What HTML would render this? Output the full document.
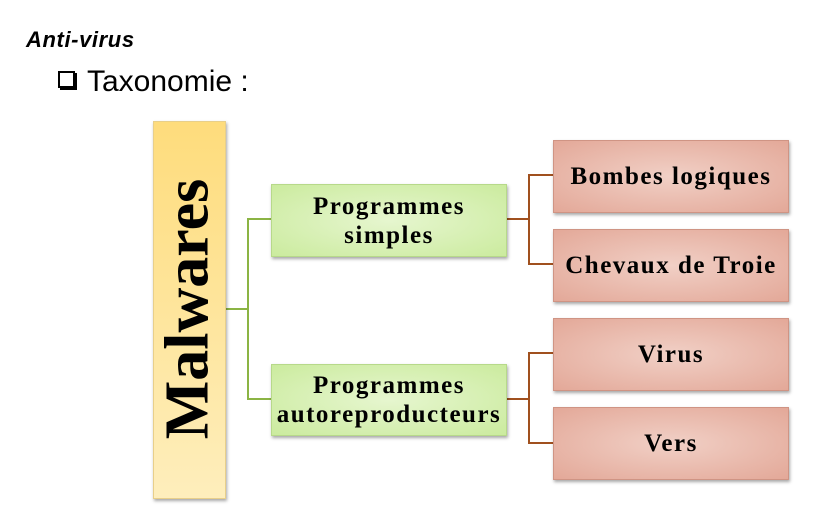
<!DOCTYPE html>
<html><head><style>
body{margin:0;width:826px;height:520px;background:#fff;position:relative;overflow:hidden;font-family:"Liberation Serif",serif}
.t1{position:absolute;left:26px;top:27px;font:italic bold 22px "Liberation Sans",sans-serif;letter-spacing:0.6px}
.t2{position:absolute;left:58px;top:65px;font:30px "Liberation Sans",sans-serif}
.sq{display:inline-block;width:13px;height:13px;border:2px solid #000;box-shadow:2px 2px 0 #000;margin-right:12px;vertical-align:3px}
.b{position:absolute;display:flex;align-items:center;justify-content:center;text-align:center;font-weight:bold;font-size:25px;letter-spacing:1.5px;line-height:29px;box-shadow:1px 2px 3px rgba(0,0,0,.35)}
.g{background:radial-gradient(ellipse at center,#e6f6cf,#cbeb9e);border:1px solid #b7d98a}
.r{background:radial-gradient(ellipse at center,#f1d0c6,#e3a898);border:1px solid #cf9484}
.m{position:absolute;left:153px;top:121px;width:71px;height:376px;background:linear-gradient(#fedc7c,#feeebc);border:1px solid #e8cf8a;box-shadow:1px 2px 3px rgba(0,0,0,.35)}
.mt{position:absolute;left:188px;top:309px;transform:translate(-50%,-50%) rotate(-90deg);font-weight:bold;font-size:62px;white-space:nowrap}
</style></head><body>
<div class="t1">Anti-virus</div>
<div class="t2"><span class="sq"></span>Taxonomie :</div>
<svg width="826" height="520" style="position:absolute;left:0;top:0">
<g fill="none" stroke-width="2">
<polyline stroke="#8bb444" points="224,309 248,309"/>
<polyline stroke="#8bb444" points="271,219 248,219 248,399 271,399"/>
<polyline stroke="#a0501e" points="505,219 529,219"/>
<polyline stroke="#a0501e" points="553,175 529,175 529,264 553,264"/>
<polyline stroke="#a0501e" points="505,399 529,399"/>
<polyline stroke="#a0501e" points="553,353 529,353 529,443 553,443"/>
</g></svg>
<div class="m"></div><div class="mt">Malwares</div>
<div class="b g" style="left:271px;top:184px;width:234px;height:71px">Programmes<br>simples</div>
<div class="b g" style="left:271px;top:364px;width:234px;height:70px">Programmes<br>autoreproducteurs</div>
<div class="b r" style="left:553px;top:140px;width:234px;height:71px">Bombes logiques</div>
<div class="b r" style="left:553px;top:229px;width:234px;height:71px">Chevaux de Troie</div>
<div class="b r" style="left:553px;top:318px;width:234px;height:71px">Virus</div>
<div class="b r" style="left:553px;top:407px;width:234px;height:71px">Vers</div>
</body></html>
